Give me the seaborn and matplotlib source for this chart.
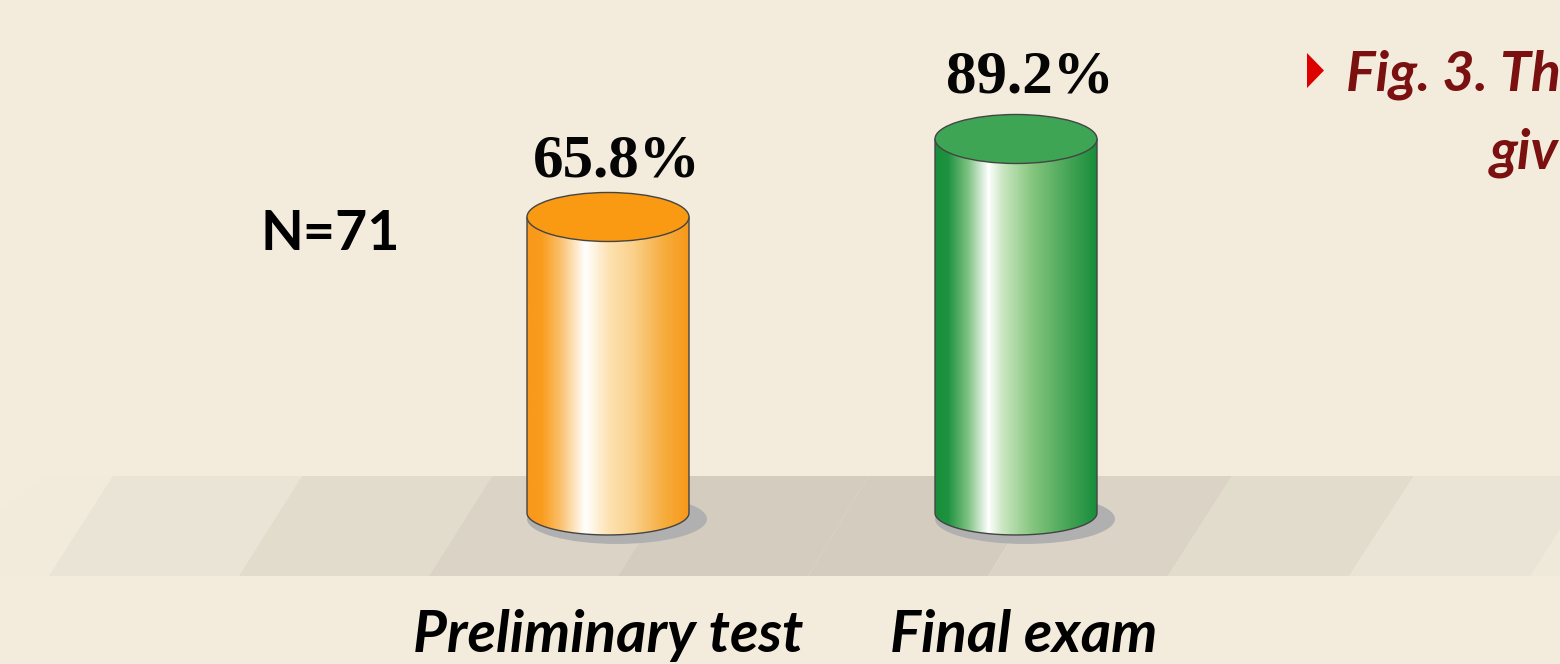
import numpy as np
import matplotlib
matplotlib.use("Agg")
import matplotlib.pyplot as plt
import seaborn as sns
from matplotlib.colors import LinearSegmentedColormap
from matplotlib.patches import Ellipse, Polygon, PathPatch, Rectangle
from matplotlib.path import Path
from matplotlib.transforms import Affine2D

categories = ["Preliminary test", "Final exam"]
values = [65.8, 89.2]
value_labels = ["65.8%", "89.2%"]
sample_note = "N=71"
caption_lines = ["Fig. 3. Th", "giv"]

BG = "#F3ECDD"
body_stops = [
    [(0.0, "#F9981A"), (0.09, "#F99C1E"), (0.2, "#FBBE68"), (0.36, "#FFFFFF"), (0.5, "#FDE3B4"),
     (0.66, "#FAD08A"), (0.85, "#F6AC3D"), (1.0, "#F8981A")],
    [(0.0, "#178E3A"), (0.08, "#1F9240"), (0.2, "#7CC180"), (0.33, "#FFFFFF"), (0.42, "#C9E6C0"),
     (0.6, "#86C67F"), (0.85, "#3FA152"), (1.0, "#178E3A")],
]
top_colors = ["#F99A12", "#3EA555"]
label_nudge_x = [9, 14]
label_rise = [60, 66]
floor_top = [113, 302, 492, 680, 868, 1050, 1232, 1414, 1594]
floor_bottom = [49, 239, 429, 618, 808, 988, 1168, 1349, 1530]
floor_colors = ["#E9E4D5", "#E2DCCD", "#DBD4C6", "#D3CCBF", "#D3CCBF", "#DBD4C6", "#E2DCCD", "#E9E4D5"]

W, H = 1560, 664
PX_X = 408.0      # pixels per category
PX_Y = 3.333      # pixels per value unit
BASE = -23.0      # value at cylinder foot

sns.set_theme(style="white")
fig = plt.figure(figsize=(W / 100, H / 100), dpi=100, facecolor=BG)
ax = fig.add_axes([0, 0, 1, 1], facecolor=BG)
bw = 162 / PX_X
sns.barplot(x=categories, y=values, hue=categories, palette=top_colors, legend=False,
            width=bw, ax=ax, zorder=3)
ax.set_axis_off()

px = Affine2D().scale(1 / W, -1 / H).translate(0, 1) + ax.transAxes

# floor
for i, c in enumerate(floor_colors):
    ax.add_patch(Polygon([(floor_top[i], 476), (floor_top[i + 1], 476),
                          (floor_bottom[i + 1], 576), (floor_bottom[i], 576)],
                         closed=True, fc=c, ec="none", transform=px, zorder=1))
ax.add_patch(Polygon([(49, 576), (113, 476), (48, 476), (0, 510), (0, 576)], closed=True,
                     fc="#F2EBDC", ec="none", transform=px, zorder=0.9))
ax.add_patch(Polygon([(1530, 576), (1594, 476), (1680, 476), (1620, 576)], closed=True,
                     fc="#EFE9DA", ec="none", transform=px, zorder=0.9))

eh_top = 49 / PX_Y
eh_bot = 44 / PX_Y
bars = sorted([p for p in ax.patches if isinstance(p, Rectangle)], key=lambda p: p.get_x())
for i, (bar, stops) in enumerate(zip(bars, body_stops)):
    x0, w, v = bar.get_x(), bar.get_width(), bar.get_height()
    xc = x0 + w / 2
    ax.add_patch(Ellipse((xc + 9 / PX_X, BASE - 6 / PX_Y), 180 / PX_X, 50 / PX_Y,
                         fc="#B0B0B0", ec="none", zorder=2))
    th = np.linspace(np.pi, 2 * np.pi, 80)
    arc_x = xc + w / 2 * np.cos(th)
    arc_y = BASE + eh_bot / 2 * np.sin(th)
    verts = [(x0, v)] + list(zip(arc_x, arc_y)) + [(x0 + w, v)]
    outline = Path(verts + [(x0, v)], closed=False)
    bar.set_visible(False)
    cmap = LinearSegmentedColormap.from_list("c", stops)
    im = ax.imshow(np.linspace(0, 1, 256)[None, :], cmap=cmap, aspect="auto",
                   extent=(x0, x0 + w, BASE - eh_bot / 2, v), zorder=3, interpolation="bilinear")
    clip = PathPatch(outline, transform=ax.transData, fc="none", ec="none")
    ax.add_patch(clip)
    im.set_clip_path(clip)
    ax.add_patch(PathPatch(outline, fc="none", ec="#444444", lw=1.0, zorder=4))
    ax.add_patch(Ellipse((xc, v), w, eh_top, fc=top_colors[i], ec="#444444", lw=1.0, zorder=5))
    ax.annotate(value_labels[i], (xc, v), xytext=(label_nudge_x[i] * 0.72, label_rise[i] * 0.72 - 3.5),
                textcoords="offset points", ha="center", va="center", fontsize=44,
                fontweight="bold", family="Liberation Serif", color="#050505", zorder=6)

ax.set_xlim(-608 / PX_X, (W - 608) / PX_X)
ax.set_ylim(-(H - 436.3) / PX_Y, 436.3 / PX_Y)

sans = ["Lato", "Liberation Sans"]
ax.text(608, 652, categories[0], transform=px, ha="center", va="baseline", fontsize=42,
        fontweight="bold", fontstyle="italic", family=sans, color="black")
ax.text(1024, 652, categories[1], transform=px, ha="center", va="baseline", fontsize=42,
        fontweight="bold", fontstyle="italic", family=sans, color="black")
ax.text(330, 250, sample_note, transform=px, ha="center", va="baseline", fontsize=40,
        fontweight="bold", family="Lato", color="black")

ax.add_patch(Polygon([(1307, 53), (1307, 88), (1324, 70.5)], closed=True, fc="#DC0000", ec="none", transform=px))
ax.text(1346, 91, caption_lines[0], transform=px, ha="left", va="baseline", fontsize=40,
        fontweight="bold", fontstyle="italic", family=sans, color="#7A1010")
ax.text(1490, 168, caption_lines[1], transform=px, ha="left", va="baseline", fontsize=40,
        fontweight="bold", fontstyle="italic", family=sans, color="#7A1010")

fig.savefig("out.png", dpi=100, facecolor=BG)
